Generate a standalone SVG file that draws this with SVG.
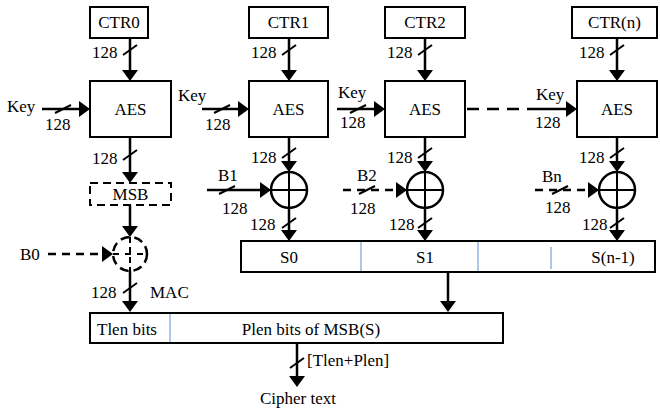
<svg xmlns="http://www.w3.org/2000/svg" width="660" height="409" viewBox="0 0 660 409">
<style>
.box{fill:#fff;stroke:#000;stroke-width:2}
.dbox{fill:none;stroke:#000;stroke-width:2;stroke-dasharray:8 5}
text{font-family:'Liberation Serif','DejaVu Serif',serif;font-size:17px;fill:#000}
.m{text-anchor:middle}
.c{stroke:#000;stroke-width:2.5;fill:none}
.d{stroke-dasharray:8 6}
.s{stroke:#000;stroke-width:2;fill:none}
.dv{stroke:#5b8fd0;stroke-width:1}
</style>
<defs>
<marker id="ah" viewBox="0 0 11 16" refX="0" refY="8" markerWidth="11" markerHeight="16" markerUnits="userSpaceOnUse" orient="auto">
<path d="M0,0 L11,8 L0,16 z" fill="#000"/>
</marker>
</defs>
<rect width="660" height="409" fill="#fff"/>

<g id="ctr0"><rect class="box" x="90" y="7" width="58" height="31"/><text class="m" x="119" y="28">CTR0</text></g>
<g id="ctr1"><rect class="box" x="249" y="7" width="79" height="31"/><text class="m" x="288.5" y="28">CTR1</text></g>
<g id="ctr2"><rect class="box" x="385" y="7" width="80" height="31"/><text class="m" x="425" y="28">CTR2</text></g>
<g id="ctrn"><rect class="box" x="572" y="7" width="85" height="31"/><text class="m" x="614.5" y="28">CTR(n)</text></g>

<g id="aes0"><rect class="box" x="90" y="81" width="81" height="56"/><text class="m" x="130.5" y="115">AES</text></g>
<g id="aes1"><rect class="box" x="249" y="81" width="79" height="56"/><text class="m" x="288.5" y="115">AES</text></g>
<g id="aes2"><rect class="box" x="385" y="81" width="80" height="56"/><text class="m" x="425" y="115">AES</text></g>
<g id="aesn"><rect class="box" x="577" y="81" width="80" height="56"/><text class="m" x="617" y="115">AES</text></g>

<g id="msb"><rect class="dbox" x="90" y="183" width="81" height="22"/><text class="m" x="130.5" y="200">MSB</text></g>

<g id="xor0"><circle cx="130" cy="254" r="17" class="c" stroke-dasharray="9 5"/><line class="s" x1="130" y1="237" x2="130" y2="271" stroke-dasharray="6 4"/><line class="s" x1="113" y1="254" x2="147" y2="254" stroke-dasharray="6 6"/></g>
<g id="xor1"><circle cx="289" cy="190" r="18" class="c"/><line class="s" x1="271" y1="190" x2="307" y2="190"/><line class="s" x1="289" y1="172" x2="289" y2="208"/></g>
<g id="xor2"><circle cx="425" cy="190" r="18" class="c"/><line class="s" x1="407" y1="190" x2="443" y2="190"/><line class="s" x1="425" y1="172" x2="425" y2="208"/></g>
<g id="xorn"><circle cx="617" cy="190" r="18" class="c"/><line class="s" x1="599" y1="190" x2="635" y2="190"/><line class="s" x1="617" y1="172" x2="617" y2="208"/></g>

<g id="sbox"><rect class="box" x="241" y="241" width="414" height="31"/>
<line class="dv" x1="361" y1="242" x2="361" y2="271"/><line class="dv" x1="478" y1="242" x2="478" y2="271"/><line class="dv" x1="551" y1="247" x2="551" y2="269"/>
<text class="m" x="289" y="263">S0</text><text class="m" x="425" y="263">S1</text><text class="m" x="613" y="263">S(n-1)</text></g>

<g id="outbox"><rect class="box" x="90" y="313" width="413" height="30"/>
<line class="dv" x1="170" y1="314" x2="170" y2="342"/>
<text class="m" x="127" y="335">Tlen bits</text><text class="m" x="311" y="335">Plen bits of MSB(S)</text></g>

<g id="inputs">
<text x="7" y="112">Key</text>
<text x="178" y="101">Key</text>
<text x="338" y="98">Key</text>
<text x="536" y="100">Key</text>
<text x="20" y="260">B0</text>
<text x="218" y="181">B1</text>
<text x="357" y="181">B2</text>
<text x="542" y="182">Bn</text>
<text class="m" x="298" y="404">Cipher text</text>
</g>

<g id="connectors">
<line class="c" x1="130" y1="38" x2="130" y2="70" marker-end="url(#ah)"/>
<line class="c" x1="289" y1="38" x2="289" y2="70" marker-end="url(#ah)"/>
<line class="c" x1="425" y1="38" x2="425" y2="70" marker-end="url(#ah)"/>
<line class="c" x1="617" y1="38" x2="617" y2="70" marker-end="url(#ah)"/>
<line class="c" x1="42" y1="109" x2="79" y2="109" marker-end="url(#ah)"/>
<line class="c" x1="202" y1="109" x2="238" y2="109" marker-end="url(#ah)"/>
<line class="c" x1="337" y1="109" x2="374" y2="109" marker-end="url(#ah)"/>
<line class="c" x1="467" y1="109" x2="528" y2="109" stroke-dasharray="12 8"/>
<line class="c" x1="528" y1="109" x2="566" y2="109" marker-end="url(#ah)"/>
<line class="c" x1="130" y1="137" x2="130" y2="172" marker-end="url(#ah)"/>
<line class="c" x1="130" y1="205" x2="130" y2="226" marker-end="url(#ah)"/>
<line class="c d" x1="48" y1="254" x2="102" y2="254" marker-end="url(#ah)"/>
<line class="c" x1="130" y1="271" x2="130" y2="301" marker-end="url(#ah)"/>
<line class="c" x1="289" y1="137" x2="289" y2="161" marker-end="url(#ah)"/>
<line class="c" x1="425" y1="137" x2="425" y2="161" marker-end="url(#ah)"/>
<line class="c" x1="617" y1="137" x2="617" y2="161" marker-end="url(#ah)"/>
<line class="c" x1="289" y1="208" x2="289" y2="230" marker-end="url(#ah)"/>
<line class="c" x1="425" y1="208" x2="425" y2="230" marker-end="url(#ah)"/>
<line class="c" x1="617" y1="208" x2="617" y2="230" marker-end="url(#ah)"/>
<line class="c" x1="207" y1="190" x2="260" y2="190" marker-end="url(#ah)"/>
<line class="c d" x1="343" y1="190" x2="396" y2="190" marker-end="url(#ah)"/>
<line class="c d" x1="535" y1="190" x2="588" y2="190" marker-end="url(#ah)"/>
<line class="c" x1="448" y1="272" x2="448" y2="301" marker-end="url(#ah)"/>
<line class="c" x1="297" y1="343" x2="297" y2="376" marker-end="url(#ah)"/>
<g class="s">
<line x1="123" y1="55" x2="137" y2="45"/>
<line x1="282" y1="55" x2="296" y2="45"/>
<line x1="418" y1="55" x2="432" y2="45"/>
<line x1="610" y1="55" x2="624" y2="45"/>
<line x1="123" y1="160" x2="137" y2="150"/>
<line x1="282" y1="158" x2="296" y2="148"/>
<line x1="418" y1="158" x2="432" y2="148"/>
<line x1="610" y1="158" x2="624" y2="148"/>
<line x1="282" y1="228" x2="296" y2="218"/>
<line x1="418" y1="228" x2="432" y2="218"/>
<line x1="610" y1="228" x2="624" y2="218"/>
<line x1="123" y1="293" x2="137" y2="283"/>
<line x1="290" y1="368" x2="304" y2="358"/>
<line x1="55" y1="113" x2="71" y2="105"/>
<line x1="214" y1="113" x2="230" y2="105"/>
<line x1="350" y1="113" x2="366" y2="105"/>
<line x1="219" y1="194" x2="235" y2="186"/>
<line x1="359" y1="194" x2="375" y2="186"/>
<line x1="552" y1="194" x2="568" y2="186"/>
</g>
<g>
<text x="92" y="58">128</text>
<text x="251" y="58">128</text>
<text x="387" y="58">128</text>
<text x="579" y="58">128</text>
<text x="45" y="130">128</text>
<text x="205" y="130">128</text>
<text x="340" y="128">128</text>
<text x="535" y="128">128</text>
<text x="92" y="164">128</text>
<text x="251" y="163">128</text>
<text x="387" y="163">128</text>
<text x="579" y="163">128</text>
<text x="222" y="214">128</text>
<text x="350" y="214">128</text>
<text x="545" y="213">128</text>
<text x="250" y="230">128</text>
<text x="389" y="230">128</text>
<text x="582" y="230">128</text>
<text x="91" y="298">128</text>
<text x="150" y="298">MAC</text>
<text x="307" y="366">[Tlen+Plen]</text>
</g>
</g>
</svg>
